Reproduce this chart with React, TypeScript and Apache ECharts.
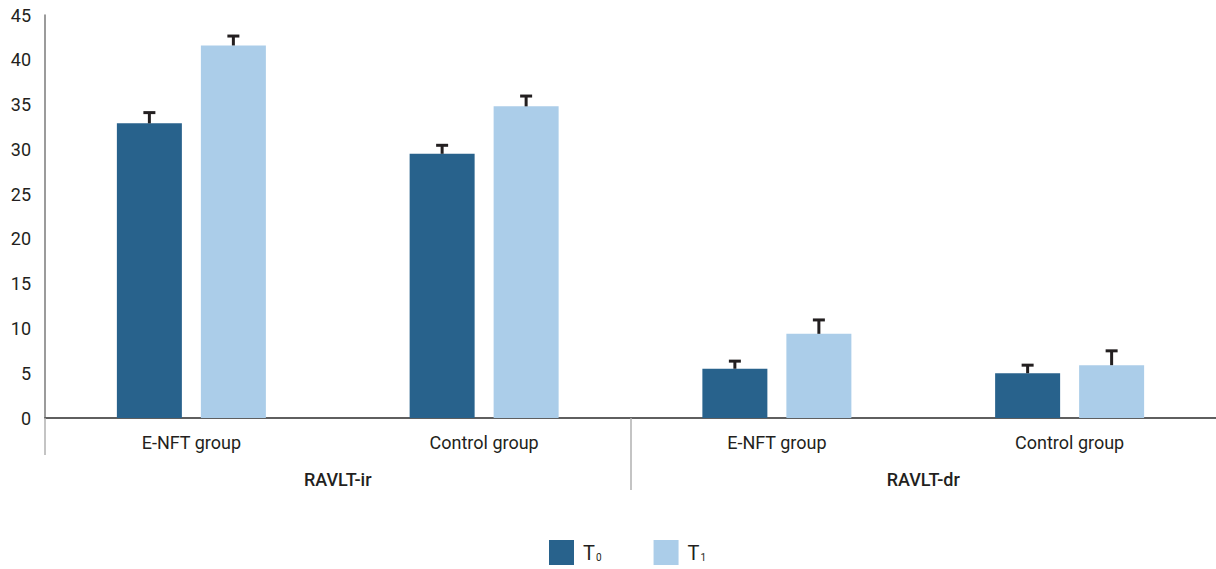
import React, { useEffect, useRef } from "react";
import * as echarts from "echarts";

const categories = ["E-NFT group", "Control group", "E-NFT group", "Control group"];
const groups = ["RAVLT-ir", "RAVLT-dr"];
const seriesNames = ["T0", "T1"];
const t0Values = [32.9, 29.5, 5.5, 5.0];
const t1Values = [41.6, 34.8, 9.4, 5.9];
const t0Errors = [1.2, 0.95, 0.85, 0.9];
const t1Errors = [1.05, 1.15, 1.55, 1.6];
const yTicks = { min: 0, max: 45, interval: 5 };

const DARK = "#28628c";
const LIGHT = "#abcde9";
const INK = "#231f20";
const BAR_W = 65;
const BAR_GAP = 19;

function errorSeries(values: number[], errors: number[], side: number) {
  return {
    type: "custom",
    xAxisIndex: 0,
    yAxisIndex: 0,
    z: 5,
    silent: true,
    encode: { x: 0, y: 1 },
    data: values.map((v, i) => [i, v, errors[i]]),
    renderItem: (params: any, api: any) => {
      const idx = api.value(0);
      const v = api.value(1);
      const e = api.value(2);
      const base = api.coord([idx, v]);
      const top = api.coord([idx, v + e]);
      const x = base[0] + (side * (BAR_W + BAR_GAP)) / 2;
      const style = { stroke: INK, lineWidth: 3 };
      return {
        type: "group",
        children: [
          { type: "line", shape: { x1: x, y1: base[1], x2: x, y2: top[1] }, style },
          { type: "line", shape: { x1: x - 6, y1: top[1], x2: x + 6, y2: top[1] }, style },
        ],
      };
    },
  };
}

export default function App() {
  const ref = useRef<HTMLDivElement>(null);
  useEffect(() => {
    if (!ref.current) return;
    const chart = echarts.init(ref.current, null, { renderer: "svg" });
    const font = "Roboto";
    chart.setOption({
      animation: false,
      textStyle: { fontFamily: font },
      grid: { left: 45, top: 15, width: 1175, height: 403, containLabel: false },
      legend: {
        data: seriesNames,
        left: 544,
        top: 535,
        itemWidth: 25,
        itemHeight: 25,
        itemGap: 52,
        icon: "rect",
        formatter: (name: string) => name[0] + "{sub|" + name.slice(1) + "}",
        textStyle: {
          fontFamily: font,
          fontSize: 20,
          color: INK,
          padding: [0, 0, 0, 4],
          rich: {
            sub: { fontFamily: font, fontSize: 10, color: INK, padding: [10, 0, 0, 1] },
          },
        },
      },
      xAxis: [
        {
          type: "category",
          data: categories,
          position: "bottom",
          axisLine: { show: true, lineStyle: { color: "#5f5f5f", width: 2 } },
          axisTick: { show: false },
          axisLabel: { margin: 15, fontSize: 18, color: INK, fontFamily: font },
          splitLine: { show: false },
        },
        {
          type: "value",
          min: 0,
          max: 2,
          position: "bottom",
          axisLine: { show: false },
          splitLine: { show: false },
          axisTick: {
            show: true,
            customValues: [1],
            length: 72,
            lineStyle: { color: "#b0b0b0", width: 1.5 },
          },
          axisLabel: {
            show: true,
            customValues: [0.5, 1.5],
            formatter: (v: number) => groups[Math.floor(v)],
            margin: 52,
            fontSize: 18,
            fontWeight: 500,
            color: INK,
            fontFamily: font,
          },
        },
        {
          type: "value",
          min: 0,
          max: 1,
          position: "bottom",
          axisLine: { show: false },
          splitLine: { show: false },
          axisTick: {
            show: true,
            customValues: [0],
            length: 37,
            lineStyle: { color: "#b0b0b0", width: 1.5 },
          },
          axisLabel: { show: false },
        },
      ],
      yAxis: {
        type: "value",
        min: yTicks.min,
        max: yTicks.max,
        interval: yTicks.interval,
        axisLine: { show: true, lineStyle: { color: "#7a7a7a", width: 1.5 } },
        axisTick: { show: false },
        splitLine: { show: false },
        axisLabel: { margin: 14, fontSize: 18, color: INK, fontFamily: font },
      },
      series: [
        {
          name: seriesNames[0],
          type: "bar",
          xAxisIndex: 0,
          data: t0Values,
          barWidth: BAR_W,
          barGap: (BAR_GAP / BAR_W) * 100 + "%",
          itemStyle: { color: DARK },
        },
        {
          name: seriesNames[1],
          type: "bar",
          xAxisIndex: 0,
          data: t1Values,
          barWidth: BAR_W,
          barGap: (BAR_GAP / BAR_W) * 100 + "%",
          itemStyle: { color: LIGHT },
        },
        errorSeries(t0Values, t0Errors, -1),
        errorSeries(t1Values, t1Errors, 1),
      ],
    });
    return () => chart.dispose();
  }, []);
  return (
    <div
      ref={ref}
      style={{ position: "fixed", left: 0, top: 0, width: 1216, height: 569, background: "#fff" }}
    />
  );
}
